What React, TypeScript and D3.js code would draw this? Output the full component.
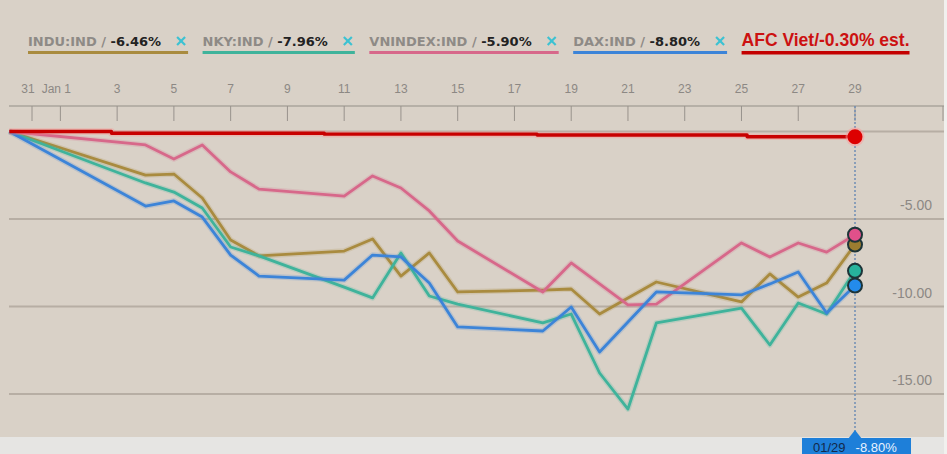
import { useRef, useEffect } from 'react';
import * as d3 from 'd3';

// day offsets from Dec 31 (Jan n = n)
const days = [-0.8, 4, 5, 6, 7, 8, 11, 12, 13, 14, 15, 18, 19, 20, 21, 22, 25, 26, 27, 28, 29];
const indu = [0, -2.49, -2.43, -3.8, -6.2, -7.11, -6.83, -6.14, -8.26, -6.94, -9.17, -9.06, -9.0, -10.43, -9.51, -8.6, -9.74, -8.14, -9.46, -8.66, -6.46];
const nky = [0, -2.94, -3.46, -4.37, -6.6, -7.11, -8.89, -9.51, -6.94, -9.4, -9.86, -10.94, -10.43, -13.8, -15.86, -10.94, -10.09, -12.2, -9.8, -10.43, -7.96];
const vnindex = [0, -0.77, -1.57, -0.77, -2.31, -3.29, -3.69, -2.54, -3.23, -4.54, -6.26, -9.17, -7.51, -8.71, -9.91, -9.86, -6.37, -7.17, -6.37, -6.89, -5.9];
const dax = [0, -4.26, -3.97, -4.89, -7.06, -8.26, -8.49, -7.06, -7.17, -8.66, -11.17, -11.4, -10.03, -12.6, -10.89, -9.17, -9.34, -8.71, -8.03, -10.37, -8.8];

const afcDays = [-0.8, 2.8, 10.3, 17.8, 25.2, 29];
const afc = [0, -0.1, -0.15, -0.2, -0.3, -0.3];

const seriesNames = ['INDU:IND', 'NKY:IND', 'VNINDEX:IND', 'DAX:IND'];
const seriesChanges = ['-6.46%', '-7.96%', '-5.90%', '-8.80%'];
const afcLabel = 'AFC Viet/-0.30% est.';

const tickDays = [0, 1, 3, 5, 7, 9, 11, 13, 15, 17, 19, 21, 23, 25, 27, 29];
const tickLabels = ['31', 'Jan 1', '3', '5', '7', '9', '11', '13', '15', '17', '19', '21', '23', '25', '27', '29'];
const yTicks = [-5, -10, -15];
const yTickLabels = ['-5.00', '-10.00', '-15.00'];

const tooltipDate = '01/29';
const tooltipValue = '-8.80%';

export default function App() {
  const ref = useRef<HTMLDivElement>(null);

  useEffect(() => {
    const container = ref.current;
    if (!container) return;
    container.innerHTML = '';
    document.body.style.margin = '0';

    const W = 947, H = 454;
    const left = 9, right = 944, axisY = 106, bottom = 437;
    const sans = '"Liberation Sans", Arial, sans-serif';

    const colors = ['#a98b3f', '#3fb39b', '#d7688a', '#3c84d8'];
    const dotColors = ['#9c7c30', '#27b39c', '#e0508a', '#238bec'];
    const values = [indu, nky, vnindex, dax];

    const x = d3.scaleLinear().domain([0, 29]).range([32, 855]);
    const y = d3.scaleLinear().domain([0, -15]).range([131.5, 394]);

    const svg = d3.select(container).append('svg')
      .attr('width', W).attr('height', H)
      .style('display', 'block');

    svg.append('rect').attr('width', W).attr('height', H).attr('fill', '#f1f0ee');
    svg.append('rect').attr('width', right).attr('height', bottom).attr('fill', '#d9d1c7');
    svg.append('rect').attr('y', bottom).attr('width', right).attr('height', H - bottom).attr('fill', '#e6e5e3');

    // legend
    const legend = svg.append('g').attr('font-family', '"DejaVu Sans", sans-serif')
      .attr('font-weight', 'bold').attr('font-size', 13);
    let lx = 28;
    seriesNames.forEach((name, i) => {
      const t = legend.append('text').attr('x', lx).attr('y', 46);
      t.append('tspan').attr('fill', '#8e8a86').text(`${name} / `);
      t.append('tspan').attr('fill', '#222').text(seriesChanges[i]);
      const w = (t.node() as SVGTextElement).getComputedTextLength();
      const cx = lx + w + 20;
      const cross = legend.append('g').attr('stroke', '#3cc2d2').attr('stroke-width', 2.2);
      cross.append('line').attr('x1', cx - 4).attr('x2', cx + 4).attr('y1', 37).attr('y2', 45);
      cross.append('line').attr('x1', cx - 4).attr('x2', cx + 4).attr('y1', 45).attr('y2', 37);
      legend.append('rect').attr('x', lx).attr('y', 51).attr('width', w + 27).attr('height', 3)
        .attr('fill', colors[i]);
      lx += w + 41.5;
    });
    const at = legend.append('text').attr('x', lx).attr('y', 46)
      .attr('font-family', sans).attr('font-size', 17.5)
      .attr('fill', '#cc1111').text(afcLabel);
    const aw = (at.node() as SVGTextElement).getComputedTextLength();
    legend.append('rect').attr('x', lx).attr('y', 51).attr('width', aw).attr('height', 3.5).attr('fill', '#c40000');

    // x axis
    svg.append('line').attr('x1', left).attr('x2', right).attr('y1', axisY).attr('y2', axisY)
      .attr('stroke', '#aaa49d').attr('stroke-width', 1.5);
    const xt = svg.append('g');
    tickDays.forEach((d, i) => {
      xt.append('line').attr('x1', x(d)).attr('x2', x(d)).attr('y1', axisY).attr('y2', axisY + 15)
        .attr('stroke', '#98928c').attr('stroke-width', 1);
      const shift = i === 0 ? -4 : i === 1 ? -4 : 0;
      xt.append('text').attr('x', x(d) + shift).attr('y', 93).attr('text-anchor', 'middle')
        .attr('font-family', sans).attr('font-size', 12)
        .attr('fill', '#8c8884').text(tickLabels[i]);
    });
    svg.append('line').attr('x1', right - 1).attr('x2', right - 1).attr('y1', axisY).attr('y2', axisY + 15)
      .attr('stroke', '#98928c');

    // grid + y labels
    const grid = svg.append('g');
    [0, ...yTicks].forEach(v => {
      grid.append('line').attr('x1', left).attr('x2', right).attr('y1', y(v)).attr('y2', y(v))
        .attr('stroke', '#b7aea4').attr('stroke-width', 2);
    });
    yTicks.forEach((v, i) => {
      grid.append('text').attr('x', 932).attr('y', y(v) - 9).attr('text-anchor', 'end')
        .attr('font-family', sans).attr('font-size', 14)
        .attr('fill', '#8c8884').text(yTickLabels[i]);
    });

    // crosshair
    svg.append('line').attr('x1', x(29)).attr('x2', x(29)).attr('y1', axisY).attr('y2', bottom)
      .attr('stroke', '#6f8db5').attr('stroke-width', 1.5).attr('stroke-dasharray', '2,2');

    // lines
    const line = d3.line<number>().x((_, i) => x(days[i])).y(d => y(d));
    const lines = svg.append('g').attr('fill', 'none').attr('stroke-linejoin', 'round');
    values.forEach((vals, i) => {
      lines.append('path').attr('d', line(vals)).attr('stroke', colors[i])
        .attr('stroke-width', 5.5).attr('stroke-opacity', 0.2);
      lines.append('path').attr('d', line(vals)).attr('stroke', colors[i]).attr('stroke-width', 2.8);
    });
    const stepLine = d3.line<number>().x((_, i) => x(afcDays[i])).y(d => y(d)).curve(d3.curveStepAfter);
    lines.append('path').attr('d', stepLine(afc)).attr('stroke', '#ff8a8a').attr('stroke-width', 6.5)
      .attr('stroke-opacity', 0.35);
    lines.append('path').attr('d', stepLine(afc)).attr('stroke', '#c80000').attr('stroke-width', 3.3);

    // end markers
    const last = days.length - 1;
    [0, 2, 1, 3].forEach(i => {
      svg.append('circle').attr('cx', x(days[last])).attr('cy', y(values[i][last])).attr('r', 7)
        .attr('fill', dotColors[i]).attr('stroke', '#1d3438').attr('stroke-width', 2);
    });
    svg.append('circle').attr('cx', x(afcDays[afcDays.length - 1])).attr('cy', y(afc[afc.length - 1]))
      .attr('r', 9.5).attr('fill', '#ff9a9a').attr('opacity', 0.5);
    svg.append('circle').attr('cx', x(afcDays[afcDays.length - 1])).attr('cy', y(afc[afc.length - 1]))
      .attr('r', 7.5).attr('fill', '#dd0000');

    // tooltip
    const tx = x(29);
    const tip = svg.append('g');
    tip.append('path').attr('d', `M${tx - 7},${bottom + 2} L${tx},${bottom - 7} L${tx + 7},${bottom + 2} Z`).attr('fill', '#1e7fd9');
    tip.append('rect').attr('x', tx - 53).attr('y', bottom + 1).attr('width', 109).attr('height', H - bottom).attr('fill', '#1e7fd9');
    const tt = tip.append('text').attr('x', tx - 42).attr('y', H - 2)
      .attr('font-family', sans).attr('font-size', 13);
    tt.append('tspan').attr('fill', '#13294a').text(tooltipDate);
    tt.append('tspan').attr('fill', '#e8f2ff').attr('dx', 10).text(tooltipValue);
  }, []);

  return <div ref={ref}></div>;
}
